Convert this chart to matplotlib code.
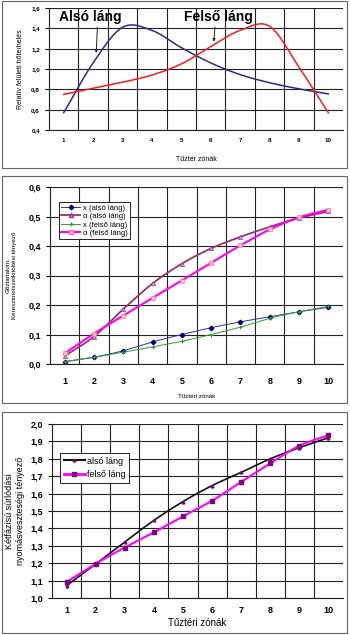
import numpy as np
import matplotlib
matplotlib.use("Agg")
from matplotlib import pyplot as plt
from matplotlib.patches import Rectangle

plt.rcParams['font.family'] = ['Liberation Sans', 'DejaVu Sans']
plt.rcParams['font.weight'] = 'bold'

W, H = 350, 635

zonak = np.arange(1, 11)

# 1. diagram - relativ feluleti hoterheles
also_hoterheles = [0.57, 1.06, 1.41, 1.38, 1.21, 1.06, 0.945, 0.865, 0.805, 0.755]
felso_hoterheles = [0.75, 0.81, 0.87, 0.94, 1.05, 1.22, 1.38, 1.42, 1.02, 0.57]

# 2. diagram - goztartalom, keresztmetszetkitoltesi tenyezo
x_also = [0.008, 0.023, 0.045, 0.075, 0.100, 0.123, 0.143, 0.160, 0.177, 0.192]
alfa_also = [0.027, 0.093, 0.186, 0.273, 0.340, 0.392, 0.431, 0.465, 0.495, 0.517]
x_felso = [0.008, 0.023, 0.040, 0.058, 0.077, 0.100, 0.125, 0.155, 0.177, 0.195]
alfa_felso = [0.036, 0.103, 0.164, 0.224, 0.283, 0.343, 0.402, 0.456, 0.497, 0.523]

# 3. diagram - ketfazisu surlodasi nyomasvesztesegi tenyezo
phi_also = [1.071, 1.195, 1.322, 1.446, 1.554, 1.646, 1.722, 1.800, 1.864, 1.921]
phi_felso = [1.092, 1.197, 1.290, 1.377, 1.469, 1.559, 1.667, 1.774, 1.875, 1.935]


def simitas(x, y, n=20):
    # Catmull-Rom, mint az Excel simitott vonala
    x = np.asarray(x, float)
    y = np.asarray(y, float)
    px = np.concatenate([[2 * x[0] - x[1]], x, [2 * x[-1] - x[-2]]])
    py = np.concatenate([[2 * y[0] - y[1]], y, [2 * y[-1] - y[-2]]])
    xs, ys = [], []
    t = np.linspace(0, 1, n, endpoint=False)
    for i in range(1, len(px) - 2):
        for p, out in ((px, xs), (py, ys)):
            p0, p1, p2, p3 = p[i - 1], p[i], p[i + 1], p[i + 2]
            out.extend(0.5 * ((2 * p1) + (-p0 + p2) * t
                              + (2 * p0 - 5 * p1 + 4 * p2 - p3) * t ** 2
                              + (-p0 + 3 * p1 - 3 * p2 + p3) * t ** 3))
    xs.append(x[-1])
    ys.append(y[-1])
    return np.array(xs), np.array(ys)


def tengely(bal, felso, jobb, also):
    return fig.add_axes([bal / W, 1 - also / H, (jobb - bal) / W, (also - felso) / H])


def racs(ax, ymin, ymax, lepes, meret):
    ax.set_xlim(0.5, 10.5)
    ax.set_ylim(ymin, ymax)
    ax.set_xticks(zonak)
    ax.set_xticks(np.arange(1.5, 10.5, 1), minor=True)
    ax.set_yticks(np.arange(ymin, ymax + lepes / 2, lepes))
    ax.yaxis.set_major_formatter(plt.FuncFormatter(lambda v, p: f"{v:.1f}".replace('.', ',')))
    ax.grid(True, which='minor', axis='x', color='#222222', lw=0.8)
    ax.grid(True, which='major', axis='y', color='#222222', lw=0.8)
    ax.tick_params(which='both', length=0)
    ax.tick_params(axis='y', which='major', length=3, width=0.8, direction='out')
    ax.tick_params(labelsize=meret)
    for s in ['top', 'right']:
        ax.spines[s].set_visible(False)
    for s in ['left', 'bottom']:
        ax.spines[s].set_color('#222222')
        ax.spines[s].set_linewidth(0.8)
    ax.set_axisbelow(True)


fig = plt.figure(figsize=(W / 100, H / 100), dpi=100)

for y0, y1 in [(1, 168), (176, 403), (412, 633)]:
    fig.add_artist(Rectangle((2 / W, 1 - y1 / H), 345 / W, (y1 - y0) / H,
                             transform=fig.transFigure, fill=False, ec='#666666', lw=0.8))

# --- 1. diagram
ax1 = tengely(49, 8, 343, 130)
racs(ax1, 0.4, 1.6, 0.2, 4.5)
xs, ys = simitas(zonak, also_hoterheles)
ax1.plot(xs, ys, color='#2b2b8c', lw=1.1)
xs, ys = simitas(zonak, felso_hoterheles)
ax1.plot(xs, ys, color='#ff1a1a', lw=1.1)
ax1.text(1.9, 1.51, 'Alsó láng', fontsize=10, ha='center', va='center')
ax1.text(6.25, 1.51, 'Felső láng', fontsize=10, ha='center', va='center')
ax1.annotate('', xy=(2.1, 1.13), xytext=(2.15, 1.44),
             arrowprops=dict(arrowstyle='-|>', color='#222222', lw=0.7, mutation_scale=4))
ax1.annotate('', xy=(6.1, 1.24), xytext=(6.15, 1.44),
             arrowprops=dict(arrowstyle='-|>', color='#222222', lw=0.7, mutation_scale=4))
ax1.set_xlabel('Tűztér zónák', fontsize=5, labelpad=9)
ax1.tick_params(axis='x', pad=6)
ax1.set_ylabel('Relatív felületi hőterhelés', fontsize=5, labelpad=5)

# --- 2. diagram
ax2 = tengely(50, 187, 343, 364)
racs(ax2, 0.0, 0.6, 0.1, 6.5)
xs, ys = simitas(zonak, x_also)
ax2.plot(xs, ys, color='#333399', lw=0.7)
ax2.plot(zonak, x_also, ls='none', marker='D', ms=2.3, color='#000080')
xs, ys = simitas(zonak, alfa_also)
ax2.plot(xs, ys, color='#993366', lw=1.3)
ax2.plot(zonak, alfa_also, ls='none', marker='^', ms=3, mfc='#cc99ff', mec='#993399', mew=0.5)
xs, ys = simitas(zonak, x_felso)
ax2.plot(xs, ys, color='#339933', lw=0.7)
ax2.plot(zonak, x_felso, ls='none', marker='+', ms=2.5, color='#339933', mew=0.7)
xs, ys = simitas(zonak, alfa_felso)
ax2.plot(xs, ys, color='#ff00ff', lw=1.5)
ax2.plot(zonak, alfa_felso, ls='none', marker='s', ms=2.5, mfc='#ffcc99', mec='#ff66cc', mew=0.5)
h = [
    plt.Line2D([], [], color='#333399', lw=0.7, marker='D', ms=2.3, mfc='#000080', mec='#000080'),
    plt.Line2D([], [], color='#993366', lw=1.3, marker='^', ms=3, mfc='#cc99ff', mec='#993399'),
    plt.Line2D([], [], color='#339933', lw=0.7, marker='+', ms=2.5),
    plt.Line2D([], [], color='#ff00ff', lw=1.5, marker='s', ms=2.5, mfc='#ffcc99', mec='#ff66cc'),
]
leg = ax2.legend(h, ['x (alsó láng)', 'α (alsó láng)', 'x (felső láng)', 'α (felső láng)'],
                 loc='upper left', bbox_to_anchor=(9 / 293, 1 - 15 / 177),
                 prop={'size': 5.5, 'weight': 'normal'}, fancybox=False, framealpha=1,
                 edgecolor='#222222', handlelength=2.5, handletextpad=0.3, labelspacing=0.15,
                 borderpad=0.3, borderaxespad=0)
leg.get_frame().set_linewidth(0.7)
ax2.set_xlabel('Tűztéri zónák', fontsize=4.5, labelpad=6)
ax2.tick_params(axis='x', pad=9)
ax2.set_ylabel('Gőztartalom,\nKeresztmetszetkitöltési tényező', fontsize=4.5,
               fontweight='normal', labelpad=8, linespacing=1.6)

# --- 3. diagram
ax3 = tengely(52, 424, 343, 598)
racs(ax3, 1.0, 2.0, 0.1, 6.5)
xs, ys = simitas(zonak, phi_also)
ax3.plot(xs, ys, color='#111111', lw=1.2)
ax3.plot(zonak, phi_also, ls='none', marker='^', ms=2, color='#800080')
xs, ys = simitas(zonak, phi_felso)
ax3.plot(xs, ys, color='#ff00ff', lw=1.5)
ax3.plot(zonak, phi_felso, ls='none', marker='s', ms=2.2, color='#800080')
h = [
    plt.Line2D([], [], color='#111111', lw=1.5, marker='^', ms=2, mfc='#800080', mec='#800080'),
    plt.Line2D([], [], color='#ff00ff', lw=2, marker='s', ms=2.2, mfc='#800080', mec='#800080'),
]
leg = ax3.legend(h, ['alsó láng', 'felső láng'], loc='upper left',
                 bbox_to_anchor=(8 / 291, 1 - 29 / 174),
                 prop={'size': 6.5, 'weight': 'normal'}, fancybox=False, framealpha=1,
                 edgecolor='#222222', handlelength=2.4, handletextpad=0.2, labelspacing=0.5,
                 borderpad=0.4, borderaxespad=0)
leg.get_frame().set_linewidth(0.7)
ax3.set_xlabel('Tűztéri zónák', fontsize=7, labelpad=2)
ax3.tick_params(axis='x', pad=6)
ax3.set_ylabel('Kétfázisú súrlódási\nnyomásveszteségi tényező', fontsize=6.5, labelpad=4)

fig.savefig('out.png', dpi=100)
